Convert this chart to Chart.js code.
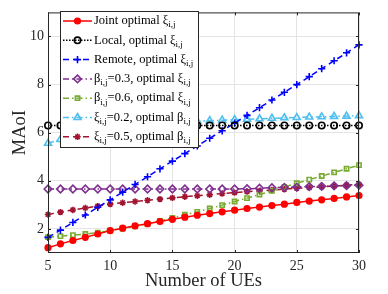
<!DOCTYPE html>
<html>
<head>
<meta charset="utf-8">
<script src="https://cdn.jsdelivr.net/npm/chart.js@4.4.0/dist/chart.umd.min.js"></script>
<style>
  html, body { margin: 0; padding: 0; background: #fff; }
  #wrap { width: 388px; height: 294px; }
</style>
</head>
<body>
<div id="wrap"><canvas id="chart"></canvas></div>
<script>
// number of UEs on the x axis
const ues = [5, 6, 7, 8, 9, 10, 11, 12, 13, 14, 15, 16, 17, 18, 19, 20, 21, 22, 23, 24, 25, 26, 27, 28, 29, 30];
const xTicks = [5, 10, 15, 20, 25, 30];
const yTicks = [2, 4, 6, 8, 10];

// MAoI per scheme
const jointOpt = [1.22, 1.38, 1.52, 1.65, 1.79, 1.93, 2.03, 2.13, 2.22, 2.31, 2.40, 2.49, 2.57, 2.64, 2.71, 2.78, 2.85, 2.91, 2.97, 3.03, 3.10, 3.16, 3.21, 3.27, 3.33, 3.39];
const localOpt = [6.3, 6.3, 6.3, 6.3, 6.3, 6.3, 6.3, 6.3, 6.3, 6.3, 6.3, 6.3, 6.3, 6.3, 6.3, 6.3, 6.3, 6.3, 6.3, 6.3, 6.3, 6.3, 6.3, 6.3, 6.3, 6.3];
const remoteOpt = [1.65, 1.95, 2.27, 2.58, 2.90, 3.21, 3.53, 3.85, 4.17, 4.50, 4.82, 5.13, 5.45, 5.77, 6.08, 6.40, 6.72, 7.04, 7.36, 7.68, 8.00, 8.33, 8.66, 8.99, 9.32, 9.65];
const beta03 = [3.66, 3.66, 3.66, 3.66, 3.66, 3.66, 3.66, 3.66, 3.66, 3.66, 3.66, 3.66, 3.66, 3.66, 3.66, 3.66, 3.67, 3.69, 3.71, 3.73, 3.74, 3.76, 3.77, 3.79, 3.80, 3.82];
const beta06 = [1.66, 1.70, 1.74, 1.79, 1.85, 1.93, 2.02, 2.11, 2.21, 2.33, 2.46, 2.59, 2.71, 2.85, 2.99, 3.14, 3.28, 3.43, 3.58, 3.74, 3.90, 4.05, 4.20, 4.35, 4.50, 4.65];
const xi02 = [5.56, 5.72, 5.86, 5.97, 6.07, 6.15, 6.22, 6.28, 6.33, 6.38, 6.42, 6.45, 6.48, 6.50, 6.52, 6.54, 6.56, 6.58, 6.60, 6.62, 6.63, 6.65, 6.66, 6.68, 6.69, 6.71];
const xi05 = [2.60, 2.70, 2.79, 2.87, 2.95, 3.03, 3.09, 3.14, 3.19, 3.24, 3.29, 3.34, 3.38, 3.42, 3.47, 3.51, 3.55, 3.58, 3.62, 3.65, 3.69, 3.72, 3.75, 3.78, 3.82, 3.85];

const seriesLabels = [
  'Joint optimal ξ_{i,j}',
  'Local, optimal ξ_{i,j}',
  'Remote, optimal ξ_{i,j}',
  'β_{i,j}=0.3, optimal ξ_{i,j}',
  'β_{i,j}=0.6, optimal ξ_{i,j}',
  'ξ_{i,j}=0.2, optimal β_{i,j}',
  'ξ_{i,j}=0.5, optimal β_{i,j}'
];

const SERIF = '"Liberation Serif", "Times New Roman", serif';

function pts(ys) {
  return ues.map((x, i) => ({ x: x, y: ys[i] }));
}

function makeSet(label, ys, color, dash, style, radius, fill) {
  return {
    label: label,
    data: pts(ys),
    borderColor: color,
    backgroundColor: fill ? color : '#ffffff',
    borderWidth: 1.5,
    borderDash: dash,
    pointStyle: style,
    pointRadius: radius,
    pointBorderWidth: 1.6,
    pointBorderColor: color,
    pointBackgroundColor: fill ? color : 'rgba(255,255,255,0)',
    tension: 0,
    clip: false
  };
}

const datasets = [
  makeSet(seriesLabels[0], jointOpt, '#ff0000', [], 'circle', 2.8, true),
  makeSet(seriesLabels[1], localOpt, '#000000', [1.5, 1.5], 'circle', 3.2, false),
  makeSet(seriesLabels[2], remoteOpt, '#0000ff', [6, 4], 'cross', 3.6, false),
  makeSet(seriesLabels[3], beta03, '#7e2f8e', [6, 3, 1.5, 3], 'rectRot', 3.8, false),
  makeSet(seriesLabels[4], beta06, '#77ac30', [6, 3, 1.5, 3], 'rect', 3.0, false),
  makeSet(seriesLabels[5], xi02, '#4dbeee', [6, 3, 1.5, 3], 'triangle', 4.0, false),
  makeSet(seriesLabels[6], xi05, '#a2142f', [6, 4], 'star', 3.2, false)
];

// text with _{...} subscripts, returns width
function drawRich(ctx, str, x, y, size, measureOnly) {
  const x0 = x;
  const parts = str.split(/(_\{[^}]*\})/);
  parts.forEach(p => {
    if (!p) return;
    const sub = p.startsWith('_{');
    const t = sub ? p.slice(2, -1) : p;
    ctx.font = (sub ? size * 0.72 : size) + 'px ' + SERIF;
    if (!measureOnly) ctx.fillText(t, x, y + (sub ? size * 0.32 : 0));
    x += ctx.measureText(t).width;
  });
  return x - x0;
}

function marker(ctx, ds, x, y) {
  ctx.save();
  ctx.setLineDash([]);
  ctx.strokeStyle = ds.pointBorderColor;
  ctx.fillStyle = ds.pointBackgroundColor;
  ctx.lineWidth = ds.pointBorderWidth;
  if (Chart.helpers && Chart.helpers.drawPoint) {
    Chart.helpers.drawPoint(ctx, { pointStyle: ds.pointStyle, radius: ds.pointRadius, rotation: 0, borderWidth: ds.pointBorderWidth }, x, y);
  } else {
    ctx.beginPath();
    ctx.arc(x, y, ds.pointRadius, 0, Math.PI * 2);
    ctx.fill();
    ctx.stroke();
  }
  ctx.restore();
}

// matlab-like axes box, inner ticks and legend
const matlabAxes = {
  id: 'matlabAxes',
  afterDatasetsDraw(chart) {
    const ctx = chart.ctx;
    const a = chart.chartArea;
    const xs = chart.scales.x, ys = chart.scales.y;
    ctx.save();
    ctx.strokeStyle = '#262626';
    ctx.lineWidth = 1;
    ctx.strokeRect(a.left + 0.5, a.top + 0.5, a.right - a.left - 1, a.bottom - a.top - 1);
    ctx.beginPath();
    xTicks.forEach(v => {
      const px = Math.round(xs.getPixelForValue(v)) + 0.5;
      ctx.moveTo(px, a.bottom); ctx.lineTo(px, a.bottom - 3);
      ctx.moveTo(px, a.top); ctx.lineTo(px, a.top + 3);
    });
    yTicks.forEach(v => {
      const py = Math.round(ys.getPixelForValue(v)) + 0.5;
      ctx.moveTo(a.left, py); ctx.lineTo(a.left + 3, py);
      ctx.moveTo(a.right, py); ctx.lineTo(a.right - 3, py);
    });
    ctx.stroke();
    ctx.restore();
  },
  afterDraw(chart) {
    const ctx = chart.ctx;
    const sets = chart.data.datasets;
    const fs = 12.5;
    let maxW = 0;
    sets.forEach(ds => { maxW = Math.max(maxW, drawRich(ctx, ds.label, 0, 0, fs, true)); });
    const bx = 60, by = 11, bh = 136;
    const bw = Math.max(132, Math.ceil(maxW) + 38);
    ctx.save();
    ctx.fillStyle = '#ffffff';
    ctx.fillRect(bx, by, bw, bh);
    ctx.strokeStyle = '#262626';
    ctx.lineWidth = 1;
    ctx.strokeRect(bx + 0.5, by + 0.5, bw, bh);
    const rowH = 19.3;
    sets.forEach((ds, i) => {
      const y = by + 10 + i * rowH;
      ctx.save();
      ctx.strokeStyle = ds.borderColor;
      ctx.lineWidth = ds.borderWidth;
      ctx.setLineDash(ds.borderDash);
      ctx.beginPath();
      ctx.moveTo(bx + 3, y);
      ctx.lineTo(bx + 32, y);
      ctx.stroke();
      ctx.restore();
      marker(ctx, ds, bx + 17.5, y);
      ctx.fillStyle = '#000000';
      ctx.textBaseline = 'middle';
      ctx.textAlign = 'left';
      drawRich(ctx, ds.label, bx + 34, y, fs, false);
    });
    ctx.restore();
  }
};

new Chart(document.getElementById('chart'), {
  type: 'line',
  data: { datasets: datasets },
  options: {
    responsive: true,
    maintainAspectRatio: false,
    animation: false,
    layout: { padding: { top: 8, right: 29, left: 0, bottom: 0 } },
    plugins: { legend: { display: false }, tooltip: { enabled: false } },
    scales: {
      x: {
        type: 'linear',
        min: 5,
        max: 30,
        afterBuildTicks: s => { s.ticks = xTicks.map(v => ({ value: v })); },
        afterFit: s => { s.height = 41; },
        ticks: { color: '#262626', padding: 5, font: { family: SERIF, size: 14 } },
        grid: { color: '#e4e4e4', drawTicks: false },
        border: { display: false },
        title: { display: true, text: 'Number of UEs', color: '#262626', font: { family: SERIF, size: 18.5 }, padding: { top: 0, bottom: 2 } }
      },
      y: {
        min: 1,
        max: 11,
        afterBuildTicks: s => { s.ticks = yTicks.map(v => ({ value: v })); },
        afterFit: s => { s.width = 48; },
        ticks: { color: '#262626', padding: 4, font: { family: SERIF, size: 14 } },
        grid: { color: '#e4e4e4', drawTicks: false },
        border: { display: false },
        title: { display: true, text: 'MAoI', color: '#262626', font: { family: SERIF, size: 18.5 }, padding: { top: 9, bottom: 0 } }
      }
    }
  },
  plugins: [matlabAxes]
});
</script>
</body>
</html>
